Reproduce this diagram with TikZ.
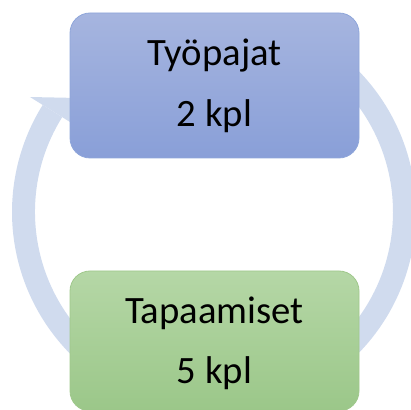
\documentclass[tikz,border=0pt]{standalone}
\usepackage{fontspec}
\setmainfont{Carlito}
\usetikzlibrary{calc}
\definecolor{ringc}{RGB}{208,219,238}
\definecolor{bluet}{RGB}{166,181,223}
\definecolor{blueb}{RGB}{137,159,216}
\definecolor{blueline}{RGB}{143,166,218}
\definecolor{greent}{RGB}{181,215,166}
\definecolor{greenb}{RGB}{155,199,137}
\definecolor{greenline}{RGB}{160,200,140}
\begin{document}
\begin{tikzpicture}[x=1pt,y=1pt,
  box/.style={rectangle, rounded corners=20pt, minimum width=289pt, inner sep=0pt, line width=0.8pt},
  lbl/.style={anchor=base, font=\fontsize{38.7}{46}\selectfont, text=black, inner sep=0pt}]
\useasboundingbox (0,0) rectangle (411,409);
\clip (0,0) rectangle (411,409);
\coordinate (c) at (214,197);
\coordinate (tip) at (78,311);
% ring
\fill[ringc] (c) ++(70:202) arc[start angle=70,end angle=-212,radius=202]
  -- ++(148:-23) arc[start angle=-212,end angle=70,radius=179] -- cycle;
% arrow head
\fill[ringc] ($(c)+(148:217)$) -- (tip) -- ($(c)+(148:163)$) -- cycle;
% boxes
\node[box, minimum height=145pt, draw=blueline, top color=bluet, bottom color=blueb] (topbox) at (214.5,323.5) {};
\node[box, minimum height=140pt, draw=greenline, top color=greent, bottom color=greenb] (botbox) at (214.5,68) {};
% labels
\node[lbl] (l1) at (214.5,343) {Työpajat};
\node[lbl] (l2) at (214.5,282) {2 kpl};
\node[lbl] (l3) at (214.5,85.5) {Tapaamiset};
\node[lbl] (l4) at (214.5,26) {5 kpl};
\end{tikzpicture}
\end{document}
